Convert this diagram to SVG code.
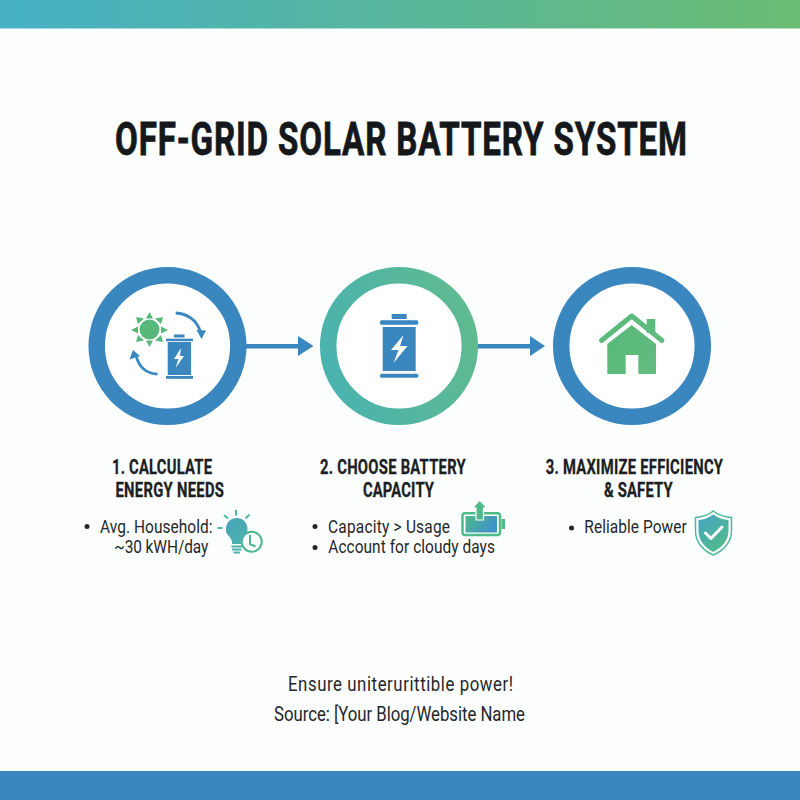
<svg xmlns="http://www.w3.org/2000/svg" width="800" height="800" viewBox="0 0 800 800">
<style>
.h{font-family:Roboto,"Liberation Sans",sans-serif;font-weight:700;font-size:20px;fill:#1c1f22;stroke:#1c1f22;stroke-width:.3}
.b{font-family:Roboto,"Liberation Sans",sans-serif;font-weight:400;font-size:18px;fill:#24272a}
.f{font-family:Roboto,"Liberation Sans",sans-serif;font-weight:400;font-size:20px;fill:#24272a}
.t{font-family:Roboto,"Liberation Sans",sans-serif;font-weight:700;font-size:46px;fill:#15181b;stroke:#15181b;stroke-width:.8}
.ring{fill:#fff;stroke-width:16.5}
.dot{fill:#24272a}
.blue{fill:#3a87c0}
.arc{fill:none;stroke:#3a87c0;stroke-width:2.8}
</style>
<defs>
<linearGradient id="top" x1="0" x2="1" y1="0" y2="0"><stop offset="0" stop-color="#46b1c6"/><stop offset="1" stop-color="#6abc72"/></linearGradient>
<linearGradient id="ringg" x1="0" y1="0.6" x2="1" y2="0.3"><stop offset="0" stop-color="#4bb3ae"/><stop offset="1" stop-color="#5fba90"/></linearGradient>
<linearGradient id="house" x1="0" y1="0" x2="1" y2="1"><stop offset="0" stop-color="#56b97a"/><stop offset="1" stop-color="#64bb80"/></linearGradient>
<linearGradient id="bulb" x1="0" y1="0" x2="1" y2="1"><stop offset="0" stop-color="#46a3bd"/><stop offset="1" stop-color="#4db3a8"/></linearGradient>
<linearGradient id="fillg" x1="0" y1="0" x2="1" y2="0.4"><stop offset="0" stop-color="#4fba8a"/><stop offset="1" stop-color="#3f93c6"/></linearGradient>
<linearGradient id="shield" x1="0" y1="0" x2="0.6" y2="1"><stop offset="0" stop-color="#45a5c4"/><stop offset="1" stop-color="#52b98c"/></linearGradient>
</defs>
<rect width="800" height="800" fill="#fdfefe"/>
<rect id="top-bar" width="800" height="28.500" fill="url(#top)"/>
<rect id="bottom-bar" y="771" width="800" height="29" fill="#3a87c0"/>
<text id="title" class="t" transform="translate(115 155) scale(.72 1)" textLength="794.400" lengthAdjust="spacing">OFF-GRID SOLAR BATTERY SYSTEM</text>

<g id="connectors">
<g id="arrow-1"><rect class="blue" x="246" y="344" width="54" height="4.500"/><polygon class="blue" points="298,336 313.500,346 298,356"/></g>
<g id="arrow-2"><rect class="blue" x="478" y="344" width="54" height="4.500"/><polygon class="blue" points="530,336 545,346 530,356"/></g>
</g>

<g id="node-1">
<circle class="ring" cx="167.500" cy="346" r="70.800" stroke="#3a87c0"/>
<g id="sun" fill="#58b87a">
<circle cx="149.500" cy="329.500" r="10"/>
<polygon points="149.500,312 146,318.500 153,318.500"/>
<polygon points="149.500,347 146,340.500 153,340.500"/>
<polygon points="131,330 138,326.500 138,333.500"/>
<polygon points="168,330 161,326.500 161,333.500"/>
<polygon points="136,317 144,318.500 138,324"/>
<polygon points="163,317 155,318.500 161,324"/>
<polygon points="136,342 144,340.500 138,335"/>
<polygon points="163,342 155,340.500 161,335"/>
</g>
<path class="arc" d="M175.700 313 C187 313.500 197 320 200.500 332"/>
<polygon class="blue" points="201.500,339 196.500,330 206,330.500"/>
<path class="arc" d="M157.500 374 C147 374 139 367 136.500 357"/>
<polygon class="blue" points="133,350 129.500,359.500 140,356"/>
<g class="blue">
<rect x="174" y="334.500" width="10.500" height="3"/>
<rect x="166" y="338.700" width="27" height="2.500"/>
<rect x="167.700" y="342" width="23.300" height="33"/>
<rect x="166" y="376" width="27" height="2.800"/>
</g>
<polygon fill="#fff" points="181,348 174,359 178.500,359 175.500,368 184,356 180,356" />
</g>

<g id="node-2">
<circle class="ring" cx="399" cy="346" r="70.800" stroke="url(#ringg)"/>
<g class="blue">
<rect x="391.700" y="314" width="15" height="5"/>
<rect x="380" y="320.300" width="38.300" height="4.400" rx="1.500"/>
<rect x="382.700" y="327" width="33" height="44"/>
<rect x="380" y="373.700" width="38.300" height="4" rx="1.500"/>
</g>
<polygon fill="#fff" points="403.500,335 391,350 398.500,350 393.500,363 407.500,346 400,346"/>
</g>

<g id="node-3">
<circle class="ring" cx="632" cy="346" r="70.800" stroke="#3a87c0"/>
<g id="house-icon">
<rect x="646.700" y="319" width="8.600" height="14" fill="#5fba80"/>
<path d="M601.500 340.500 L631.700 316 L662 340.500" fill="none" stroke="url(#house)" stroke-width="5" stroke-linecap="round" stroke-linejoin="round"/>
<path d="M607.300 344 L631.700 325 L656 344 V374 H638.300 V355 H625.700 V374 H607.300 Z" fill="url(#house)"/>
</g>
</g>

<g id="label-1">
<text class="h" transform="translate(112 474) scale(.74 1)" textLength="135.100" lengthAdjust="spacing">1. CALCULATE</text>
<text class="h" transform="translate(115.500 496.500) scale(.74 1)" textLength="146.600" lengthAdjust="spacing">ENERGY NEEDS</text>
<circle class="dot" cx="87" cy="526.500" r="2.500"/>
<text class="b" transform="translate(100 532.700) scale(.86 1)" textLength="130.800" lengthAdjust="spacing">Avg. Household:</text>
<text class="b" transform="translate(114.300 553) scale(.86 1)" textLength="109.300" lengthAdjust="spacing">~30 kWH/day</text>
<g id="bulb-icon">
<circle cx="251.700" cy="541.700" r="10" fill="none" stroke="#47b88c" stroke-width="2"/>
<path d="M250 535v9l5.500 2.500" fill="none" stroke="#47b88c" stroke-width="2"/>
<path d="M236.700 518 a10.800 10.800 0 0 1 7 19 q-2.500 2.500 -2.500 7 h-9 q0 -4.500 -2.500 -7 a10.800 10.800 0 0 1 7 -19Z" fill="url(#bulb)"/>
<path d="M231.500 546.500h10.500M232 549.500h9.500M233.500 552.500h6.500" stroke="#4db3a8" stroke-width="2" fill="none"/>
<path d="M236 515.500v-5.500M228 518.500l-4 -3.500M245.500 518.500l4 -4M222.500 528h-5" stroke="#4cb8a0" stroke-width="2" fill="none"/>
</g>
</g>

<g id="label-2">
<text class="h" transform="translate(320 474) scale(.74 1)" textLength="196.900" lengthAdjust="spacing">2. CHOOSE BATTERY</text>
<text class="h" transform="translate(363 496.500) scale(.74 1)" textLength="95.900" lengthAdjust="spacing">CAPACITY</text>
<circle class="dot" cx="315" cy="526.500" r="2.500"/>
<text class="b" transform="translate(328 532.700) scale(.86 1)" textLength="141.900" lengthAdjust="spacing">Capacity &gt; Usage</text>
<circle class="dot" cx="315" cy="547.500" r="2.500"/>
<text class="b" transform="translate(328.300 553) scale(.86 1)" textLength="193.800" lengthAdjust="spacing">Account for cloudy days</text>
<g id="battery-up-icon">
<rect x="462.500" y="513.200" width="37.500" height="21.800" rx="2.500" fill="#fff" stroke="#4fba8a" stroke-width="2.500"/>
<rect x="465.500" y="516" width="31.500" height="16.500" fill="url(#fillg)"/>
<rect x="501.500" y="519" width="3.500" height="10" fill="#4fba8a"/>
<polygon points="479.700,500 487,508 483.500,508 483.500,520 476,520 476,508 472.500,508" fill="#4fba8a" stroke="#fff" stroke-width="1.200"/>
</g>
</g>

<g id="label-3">
<text class="h" transform="translate(545.700 474) scale(.74 1)" textLength="239.600" lengthAdjust="spacing">3. MAXIMIZE EFFICIENCY</text>
<text class="h" transform="translate(604 496.500) scale(.74 1)" textLength="92.800" lengthAdjust="spacing">&amp; SAFETY</text>
<circle class="dot" cx="571.500" cy="528" r="2.500"/>
<text class="b" transform="translate(584.300 533) scale(.86 1)" textLength="119.100" lengthAdjust="spacing">Reliable Power</text>
<g id="shield-icon">
<path d="M713.300 511 C708 515.500 702 517 695.500 517.500 V531 C695.500 542 703 550.500 713.300 555 C723.500 550.500 731.500 542 731.500 531 V517.500 C724.500 517 718.500 515.500 713.300 511Z" fill="#fff" stroke="#4fb9a0" stroke-width="1.500"/>
<path d="M713.300 514.500 C708.500 518 703.500 519.500 698.500 520 V531 C698.500 540.500 705 548 713.300 552 C721.500 548 728.500 540.500 728.500 531 V520 C723 519.500 718 518 713.300 514.500Z" fill="url(#shield)"/>
<path d="M705.500 533l5.500 5.500l11 -11.500" fill="none" stroke="#fff" stroke-width="3" stroke-linecap="round" stroke-linejoin="round"/>
</g>
</g>

<g id="footer">
<text class="f" transform="translate(288 691) scale(.84 1)" textLength="267.900" lengthAdjust="spacing">Ensure uniterurittible power!</text>
<text class="f" transform="translate(274 720.500) scale(.84 1)" textLength="298.800" lengthAdjust="spacing">Source: [Your Blog/Website Name</text>
</g>
</svg>
